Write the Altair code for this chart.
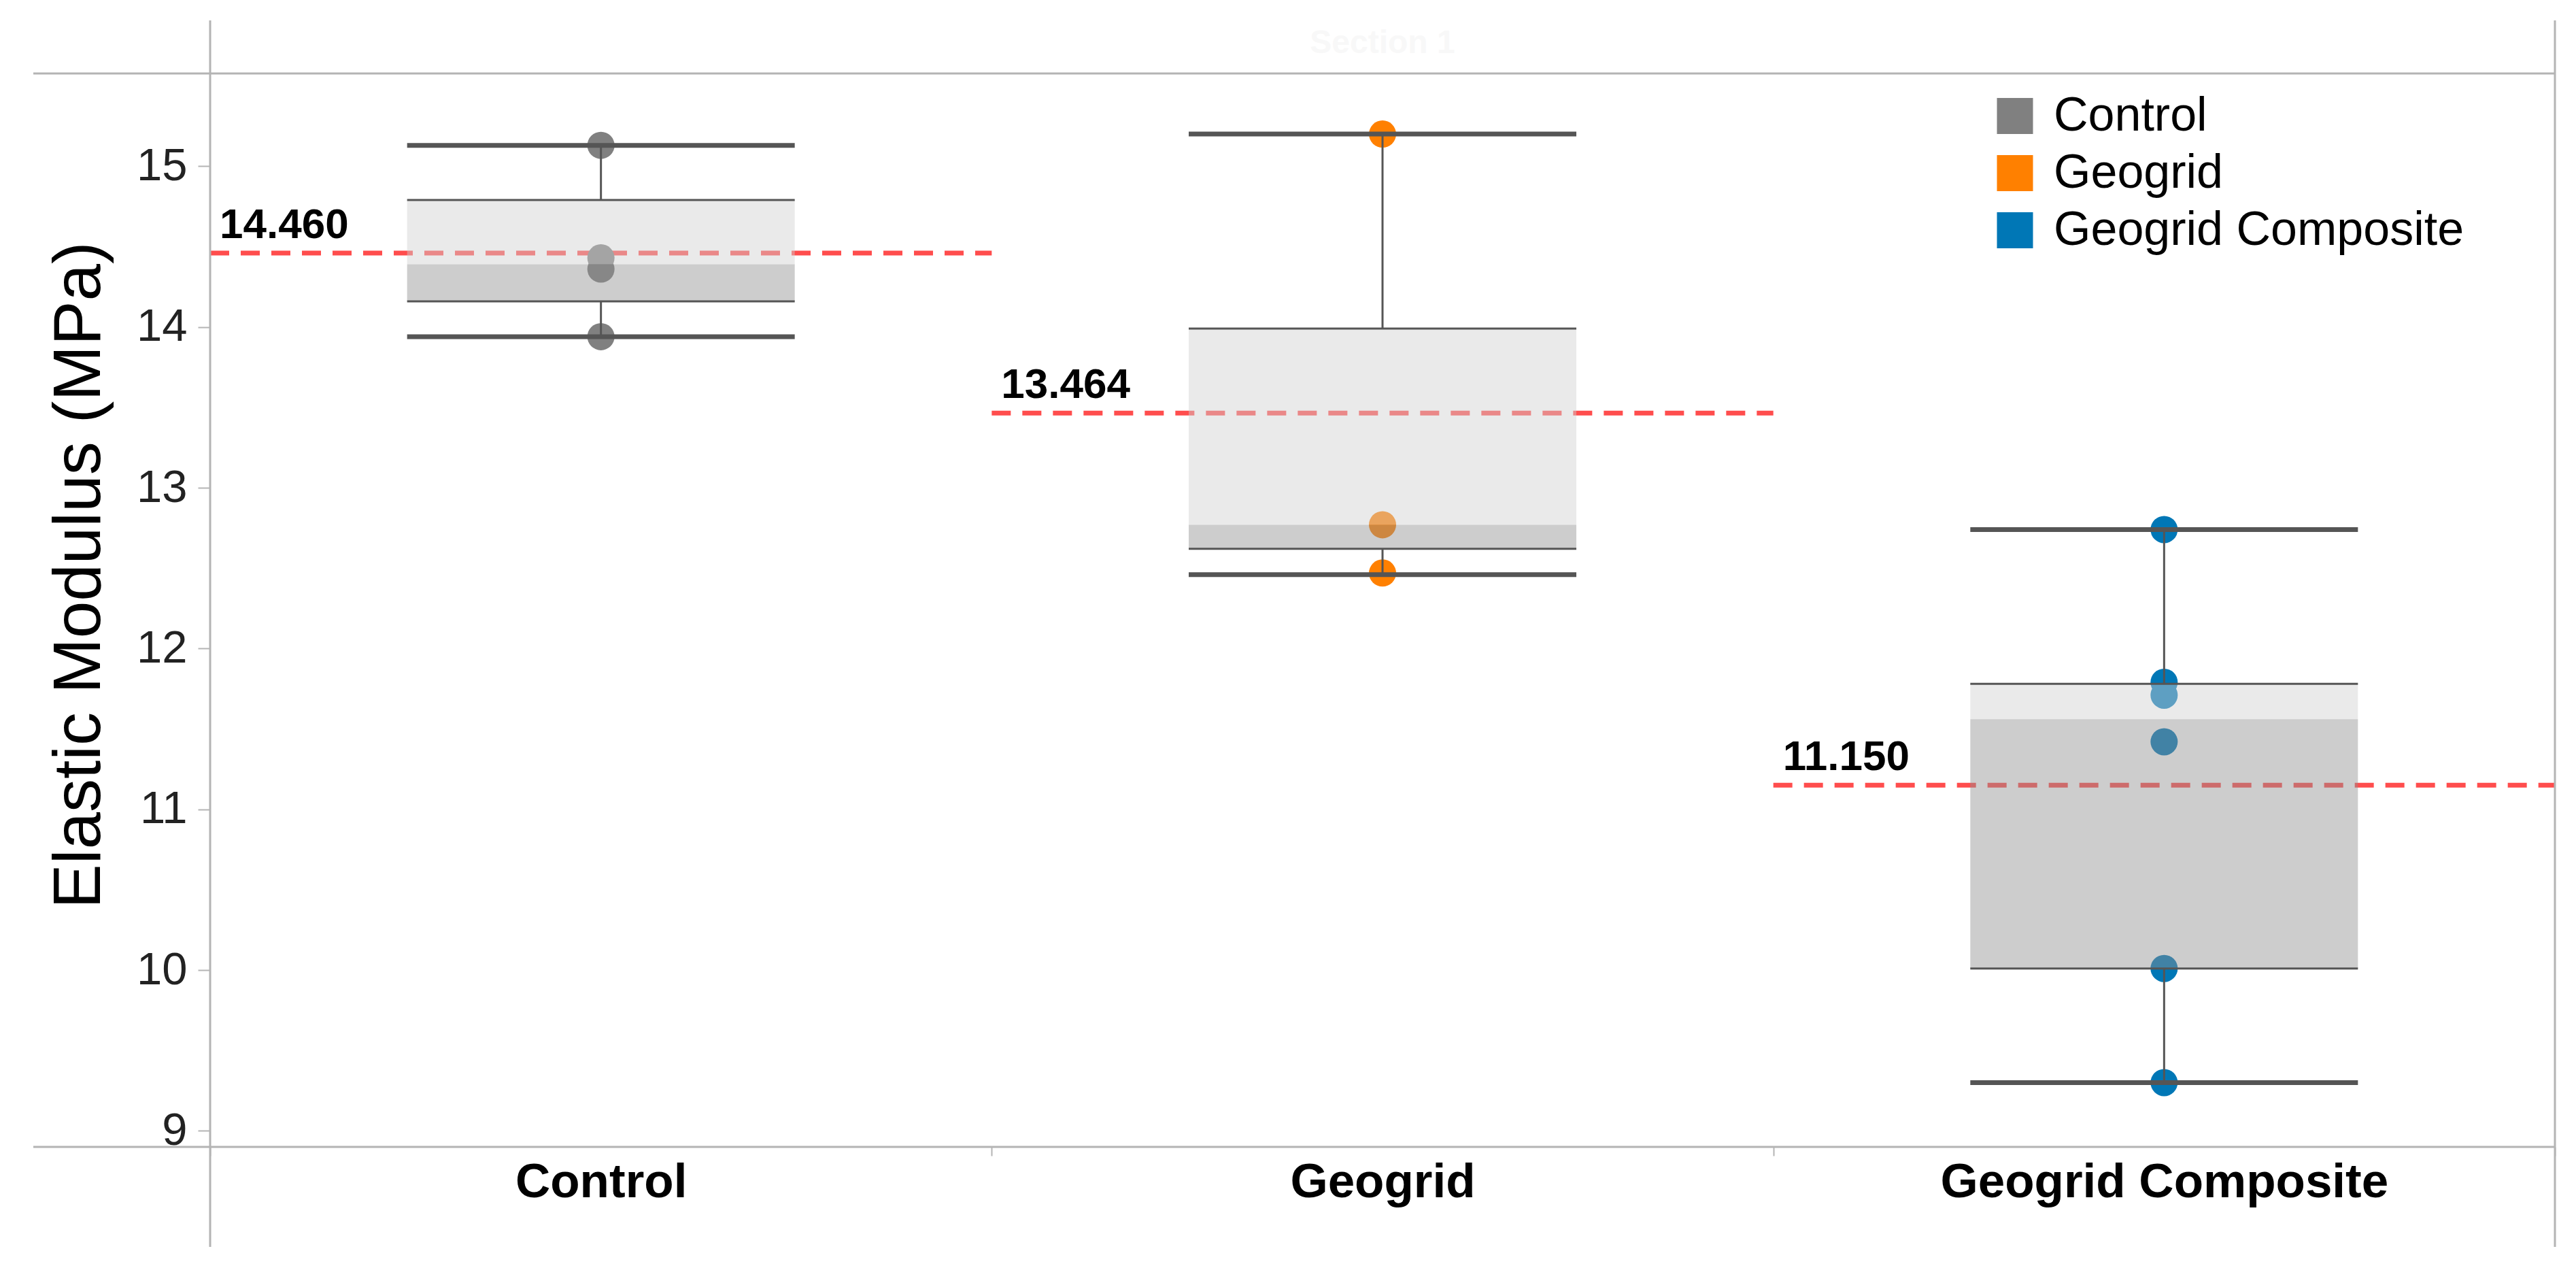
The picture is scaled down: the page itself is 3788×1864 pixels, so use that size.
import altair as alt
import pandas as pd

# ---------------- data ----------------
categories = ["Control", "Geogrid", "Geogrid Composite"]
whisker_low = [13.94, 12.46, 9.30]
q1 = [14.16, 12.62, 10.01]
median = [14.39, 12.77, 11.56]
q3 = [14.79, 13.99, 11.78]
whisker_high = [15.13, 15.20, 12.74]
mean_values = [14.460, 13.464, 11.150]

control_points = [15.13, 14.43, 14.36, 13.94]
geogrid_points = [15.20, 12.77, 12.47]
composite_points = [12.74, 11.79, 11.71, 11.42, 10.01, 9.30]

point_colors = ["#808080", "#FF8000", "#0077B6"]
y_ticks = [9, 10, 11, 12, 13, 14, 15]
y_title = "Elastic Modulus (MPa)"
header_text = ["Section 1"]

# ---------------- tables ----------------
stats = pd.DataFrame({
    "cat": categories, "lo": whisker_low, "q1": q1, "med": median,
    "q3": q3, "hi": whisker_high, "mean": mean_values,
})
points = pd.DataFrame({
    "cat": ["Control"] * len(control_points)
    + ["Geogrid"] * len(geogrid_points)
    + ["Geogrid Composite"] * len(composite_points),
    "value": control_points + geogrid_points + composite_points,
})

W, H = 3448, 1578
FONT = "Liberation Sans"
FRAME = "#b4b4b4"
DARK = "#555555"
BOXW = 570

xscale = alt.Scale(domain=categories, paddingInner=0, paddingOuter=0)
yscale = alt.Scale(domain=[8.9, 15.577], nice=False, zero=False)

xaxis = alt.Axis(title=None, labelFontSize=71, labelFontWeight="bold", labelColor="#000000",
                 labelFont=FONT, tickBand="extent", tickSize=13, tickColor=FRAME, tickWidth=2,
                 domain=False, grid=False, labelPadding=4, labelAngle=0, labelLimit=2000)
yaxis = alt.Axis(values=y_ticks, format="d", labelFontSize=67, labelColor="#222222", labelFont=FONT,
                 tickSize=18, tickColor=FRAME, tickWidth=2, labelPadding=16, domain=False, grid=False,
                 title=y_title, titleFontSize=98, titleFont=FONT, titleFontWeight="normal",
                 titleColor="#000000", titleX=-163, titleY=737, titleAlign="center",
                 titleBaseline="alphabetic", titleAngle=270)


def X(**kw):
    return alt.X("cat:N", scale=xscale, axis=xaxis, **kw)


def Y(field):
    return alt.Y(f"{field}:Q", scale=yscale, axis=yaxis, title=y_title)


base = alt.Chart(stats)

ref_line = base.mark_rule(color="#FF4D4D", strokeWidth=7, strokeDash=[28, 17]).encode(
    x=X(bandPosition=0), x2=alt.X2("cat:N", bandPosition=1), y=Y("mean")
)

pts = alt.Chart(points).mark_circle(size=1600, opacity=1).encode(
    x=X(), y=Y("value"),
    color=alt.Color("cat:N", scale=alt.Scale(domain=categories, range=point_colors),
                    legend=alt.Legend(title=None, orient="none", legendX=2619, legendY=27.5,
                                      symbolType="square", symbolSize=2809, symbolStrokeWidth=0,
                                      symbolOpacity=1, labelFontSize=70, labelFont=FONT,
                                      labelColor="#000000", rowPadding=14, labelOffset=22,
                                      padding=0, labelLimit=1000)),
)

box_upper = base.mark_bar(width=BOXW, color="#D0D0D0", opacity=0.45).encode(
    x=X(), y=Y("q3"), y2="med:Q")
box_lower = base.mark_bar(width=BOXW, color="#909090", opacity=0.45).encode(
    x=X(), y=Y("med"), y2="q1:Q")

edge_top = base.mark_tick(size=BOXW, thickness=3, color=DARK, opacity=1).encode(x=X(), y=Y("q3"))
edge_bot = base.mark_tick(size=BOXW, thickness=3, color=DARK, opacity=1).encode(x=X(), y=Y("q1"))

stem_up = base.mark_rule(color=DARK, strokeWidth=3).encode(x=X(), y=Y("q3"), y2="hi:Q")
stem_dn = base.mark_rule(color=DARK, strokeWidth=3).encode(x=X(), y=Y("q1"), y2="lo:Q")

cap_hi = base.mark_tick(size=BOXW, thickness=7, color=DARK, opacity=1).encode(x=X(), y=Y("hi"))
cap_lo = base.mark_tick(size=BOXW, thickness=7, color=DARK, opacity=1).encode(x=X(), y=Y("lo"))

ref_text = base.mark_text(align="left", baseline="alphabetic", dx=14, dy=-22, fontSize=62,
                          fontWeight="bold", color="#000000", font=FONT).encode(
    x=X(bandPosition=0), y=Y("mean"), text=alt.Text("mean:Q", format=".3f"))

# faint header text
header = alt.Chart(pd.DataFrame({"t": header_text})).mark_text(
    fontSize=48, fontWeight="bold", color="#f8f8f8", font=FONT, align="center", baseline="middle"
).encode(x=alt.value(W / 2), y=alt.value(-44), text="t:N")

# Tableau-style pane borders
one = alt.Chart(pd.DataFrame({"k": [0]}))
frame_style = dict(color=FRAME, strokeWidth=3)
frames = [
    one.mark_rule(**frame_style).encode(x=alt.value(-260), x2=alt.value(W), y=alt.value(0)),
    one.mark_rule(**frame_style).encode(x=alt.value(-260), x2=alt.value(W), y=alt.value(H)),
    one.mark_rule(**frame_style).encode(x=alt.value(0), y=alt.value(-78), y2=alt.value(H + 147)),
    one.mark_rule(**frame_style).encode(x=alt.value(W), y=alt.value(-78), y2=alt.value(H + 147)),
]

chart = alt.layer(
    ref_line, pts, box_upper, box_lower, edge_top, edge_bot,
    stem_up, stem_dn, cap_hi, cap_lo, ref_text, header, *frames
).properties(
    width=W, height=H,
    autosize=alt.AutoSizeParams(type="none"),
    padding={"left": 301, "top": 100, "right": 20, "bottom": 160},
).configure_view(
    strokeWidth=0
).configure(
    font=FONT, background="white"
)

chart.save("out.html", embed_options={"renderer": "svg", "actions": False})
